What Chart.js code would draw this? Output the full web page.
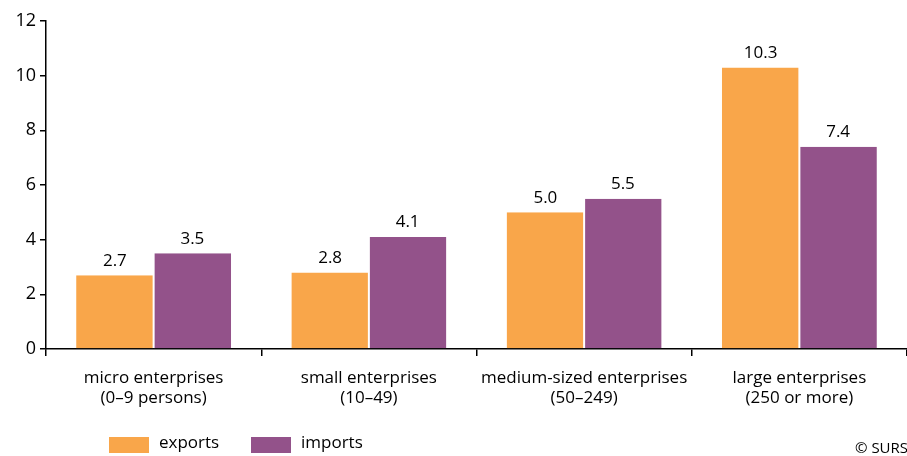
<!DOCTYPE html>
<html>
<head>
<meta charset="utf-8">
<script src="https://cdn.jsdelivr.net/npm/chart.js@4.4.0/dist/chart.umd.min.js"></script>
<style>
  body { margin: 0; background: #fff; }
  #wrap { position: relative; width: 907px; height: 456px; }
</style>
</head>
<body>
<div id="wrap"><canvas id="myChart" width="907" height="456"></canvas></div>
<script>
// data ..........
const categories = [
  ["micro enterprises", "(0–9 persons)"],
  ["small enterprises", "(10–49)"],
  ["medium-sized enterprises", "(50–249)"],
  ["large enterprises", "(250 or more)"]
];
const exportsValues = [2.7, 2.8, 5.0, 10.3];
const importsValues = [3.5, 4.1, 5.5, 7.4];
const seriesNames = ["exports", "imports"];
const barColors = ["#F9A64A", "#93528A"];
const yTicks = [0, 2, 4, 6, 8, 10, 12];

const FONT = "'Open Sans', 'Noto Sans', sans-serif";

// value labels above bars + legend + copyright
const extrasPlugin = {
  id: "extras",
  afterDatasetsDraw(chart) {
    const ctx = chart.ctx;
    ctx.save();
    ctx.fillStyle = "#000";
    ctx.font = "17px " + FONT;
    ctx.textAlign = "center";
    ctx.textBaseline = "bottom";
    chart.data.datasets.forEach((ds, i) => {
      chart.getDatasetMeta(i).data.forEach((bar, j) => {
        ctx.fillText(ds.data[j].toFixed(1), bar.x, bar.y - 6);
      });
    });

    // legend
    let x = 109;
    ctx.textAlign = "left";
    ctx.textBaseline = "middle";
    chart.data.datasets.forEach((ds, i) => {
      ctx.fillStyle = barColors[i];
      ctx.fillRect(x, 437, 40, 16);
      ctx.fillStyle = "#000";
      ctx.fillText(seriesNames[i], x + 50, 443);
      x += 142;
    });

    ctx.font = "15px " + FONT;
    ctx.fillText("© SURS", 855, 449);
    ctx.restore();
  }
};

new Chart(document.getElementById("myChart"), {
  type: "bar",
  data: {
    labels: categories,
    datasets: [
      { label: seriesNames[0], data: exportsValues, backgroundColor: barColors[0], borderColor: "#fff", borderWidth: { left: 0, right: 1, top: 0, bottom: 0 } },
      { label: seriesNames[1], data: importsValues, backgroundColor: barColors[1], borderColor: "#fff", borderWidth: { left: 1, right: 0, top: 0, bottom: 0 } }
    ]
  },
  options: {
    responsive: false,
    animation: false,
    layout: { padding: { top: 21, right: 0, left: 0, bottom: 0 } },
    datasets: { bar: { categoryPercentage: 0.72, barPercentage: 1.0 } },
    plugins: {
      legend: { display: false },
      tooltip: { enabled: false }
    },
    scales: {
      x: {
        grid: { offset: true, drawOnChartArea: false, color: "#000", tickLength: 7, lineWidth: 1.5 },
        border: { color: "#000", width: 1.5 },
        ticks: { color: "#000", font: { family: FONT, size: 17, lineHeight: 1.2 }, padding: 12, maxRotation: 0 },
        afterFit(scale) { scale.height = 107; }
      },
      y: {
        min: 0,
        max: 12,
        afterBuildTicks(scale) { scale.ticks = yTicks.map(v => ({ value: v })); },
        grid: { drawOnChartArea: false, color: "#000", tickLength: 6, lineWidth: 1.5 },
        border: { color: "#000", width: 1.5 },
        ticks: { color: "#000", font: { family: FONT, size: 18 }, padding: 4 },
        afterFit(scale) { scale.width = 46; }
      }
    }
  },
  plugins: [extrasPlugin]
});
</script>
</body>
</html>
